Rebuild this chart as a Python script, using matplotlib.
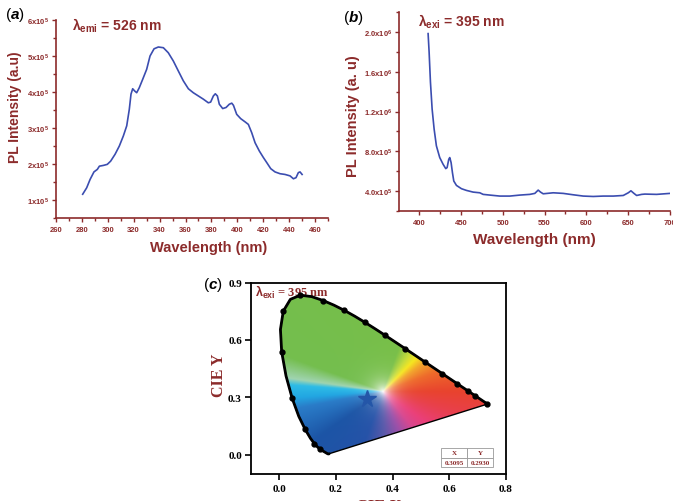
import numpy as np
import matplotlib
matplotlib.use("Agg")
import matplotlib.pyplot as plt
from matplotlib.ticker import FixedLocator, MultipleLocator
from matplotlib.patches import Polygon
from matplotlib.colors import to_rgb

# --- data -------------------------------------------------------------
# (a) excitation spectrum, lambda_emi = 526 nm
wl_a = [280.6, 283.7, 286.3, 289.3, 291.9, 293.5, 296.5, 299.6, 302.2, 305.6,
        308.9, 312.0, 314.6, 316.6, 317.9, 319.2, 320.7, 322.3, 324.3, 326.9,
        330.0, 332.6, 335.7, 339.0, 342.9, 346.7, 350.6, 354.5, 358.3, 362.2,
        366.0, 369.9, 373.8, 377.6, 379.4, 381.5, 383.0, 384.6, 386.1, 388.7,
        391.3, 393.8, 395.7, 397.0, 399.5, 402.6, 406.0, 408.5, 411.1, 413.7,
        417.0, 420.1, 422.7, 425.8, 429.1, 433.0, 436.8, 440.7, 443.3, 445.3,
        447.1, 448.4, 450.0]
int_a = [1.16, 1.34, 1.57, 1.78, 1.85, 1.94, 1.96, 1.99, 2.08, 2.27,
         2.50, 2.78, 3.06, 3.52, 3.94, 4.09, 4.03, 3.98, 4.12, 4.35,
         4.63, 5.00, 5.20, 5.25, 5.23, 5.09, 4.86, 4.58, 4.31, 4.09,
         3.98, 3.89, 3.80, 3.70, 3.72, 3.89, 3.95, 3.89, 3.66, 3.54,
         3.57, 3.66, 3.69, 3.63, 3.38, 3.26, 3.17, 3.10, 2.87, 2.59,
         2.36, 2.18, 2.04, 1.87, 1.78, 1.73, 1.71, 1.67, 1.59, 1.62,
         1.76, 1.78, 1.71]  # x1e5

# (b) emission spectrum, lambda_exi = 395 nm
wl_b = [410.8, 412.0, 413.6, 415.6, 418.0, 420.7, 424.7, 428.7, 431.9, 433.5,
        435.5, 436.7, 438.3, 439.9, 441.5, 444.7, 450.7, 456.6, 464.6, 472.6,
        476.6, 484.6, 496.5, 508.5, 520.5, 532.4, 538.4, 542.4, 545.2, 548.4,
        560.4, 572.3, 584.3, 596.3, 608.2, 620.2, 632.2, 644.1, 650.1, 653.3,
        656.9, 660.1, 666.1, 670.0, 684.0, 700.0]
int_b = [19.83, 17.98, 14.95, 12.25, 10.23, 8.55, 7.37, 6.70, 6.26, 6.36,
         7.20, 7.37, 6.86, 5.85, 5.01, 4.57, 4.24, 4.07, 3.90, 3.83,
         3.67, 3.60, 3.50, 3.50, 3.60, 3.67, 3.77, 4.10, 3.90, 3.73,
         3.83, 3.77, 3.63, 3.50, 3.46, 3.50, 3.50, 3.56, 3.83, 4.03,
         3.77, 3.56, 3.67, 3.70, 3.67, 3.77]  # x1e5

ticks_a_y = [1e5, 2e5, 3e5, 4e5, 5e5, 6e5]
labels_a_y = ["1x10$^5$", "2x10$^5$", "3x10$^5$", "4x10$^5$", "5x10$^5$", "6x10$^5$"]
ticks_b_y = [4e5, 8e5, 1.2e6, 1.6e6, 2.0e6]
labels_b_y = ["4.0x10$^5$", "8.0x10$^5$", "1.2x10$^6$", "1.6x10$^6$", "2.0x10$^6$"]

# (c) CIE 1931 spectral locus
locus_nm = [380, 390, 400, 410, 420, 430, 440, 445, 450, 455, 460, 465, 470, 475,
            480, 485, 490, 495, 500, 505, 510, 515, 520, 525, 530, 535, 540,
            545, 550, 555, 560, 565, 570, 575, 580, 585, 590, 595, 600, 605,
            610, 615, 620, 625, 630, 640, 650, 660, 680, 700]
locus_x = [0.1741, 0.1738, 0.1733, 0.1726, 0.1714, 0.1689, 0.1644, 0.1611, 0.1566,
           0.1510, 0.1440, 0.1355, 0.1241, 0.1096, 0.0913, 0.0687, 0.0454, 0.0235,
           0.0082, 0.0039, 0.0139, 0.0389, 0.0743, 0.1142, 0.1547, 0.1929, 0.2296,
           0.2658, 0.3016, 0.3373, 0.3731, 0.4087, 0.4441, 0.4788, 0.5125, 0.5448,
           0.5752, 0.6029, 0.6270, 0.6482, 0.6658, 0.6801, 0.6915, 0.7006, 0.7079,
           0.7190, 0.7260, 0.7300, 0.7334, 0.7347]
locus_y = [0.0050, 0.0049, 0.0048, 0.0048, 0.0051, 0.0069, 0.0109, 0.0138, 0.0177,
           0.0227, 0.0297, 0.0399, 0.0578, 0.0868, 0.1327, 0.2007, 0.2950, 0.4127,
           0.5384, 0.6548, 0.7502, 0.8120, 0.8338, 0.8262, 0.8059, 0.7816, 0.7543,
           0.7243, 0.6923, 0.6589, 0.6245, 0.5896, 0.5547, 0.5202, 0.4866, 0.4544,
           0.4242, 0.3965, 0.3725, 0.3514, 0.3340, 0.3197, 0.3083, 0.2993, 0.2920,
           0.2809, 0.2740, 0.2700, 0.2666, 0.2653]
dot_nm = [460, 470, 480, 490, 500, 510, 520, 530, 540, 550, 560, 570, 580, 590, 600, 610, 620, 700]
cie_point = (0.3095, 0.2930)

red = "#8C2B2B"
blue = "#3B4DB0"

plt.rcParams["font.family"] = ["Liberation Sans", "DejaVu Sans"]
plt.rcParams["font.weight"] = "bold"
plt.rcParams["mathtext.fontset"] = "custom"
plt.rcParams["mathtext.rm"] = "Liberation Sans:bold"
plt.rcParams["mathtext.it"] = "Liberation Sans:italic"
plt.rcParams["mathtext.bf"] = "Liberation Sans:bold"
plt.rcParams["mathtext.default"] = "bf"

W, H = 673, 502
fig = plt.figure(figsize=(W / 100, H / 100), dpi=100)


def px_axes(l, t, r, b):
    return fig.add_axes([l / W, 1 - b / H, (r - l) / W, (b - t) / H])


def style_spec(ax):
    for s in ["top", "right"]:
        ax.spines[s].set_visible(False)
    for s in ["left", "bottom"]:
        ax.spines[s].set_color(red)
        ax.spines[s].set_linewidth(1.2)
    ax.tick_params(which="both", direction="out", colors=red, labelsize=5.5, pad=2)
    ax.tick_params(which="major", length=3, width=1)
    ax.tick_params(which="minor", length=2, width=1)


# (a)
ax1 = px_axes(56, 21, 328, 219)
ax1.plot(wl_a, np.array(int_a) * 1e5, color=blue, lw=1.2)
ax1.set_xlim(260, 470)
ax1.set_ylim(0.5e5, 6e5)
ax1.xaxis.set_major_locator(FixedLocator(range(260, 461, 20)))
ax1.xaxis.set_minor_locator(MultipleLocator(10))
ax1.set_yticks(ticks_a_y, labels_a_y)
ax1.yaxis.set_minor_locator(MultipleLocator(0.5e5))
style_spec(ax1)
ax1.tick_params(axis="x", pad=3)
ax1.set_xlabel("Wavelength (nm)", color=red, fontsize=10.5, fontweight="bold")
ax1.xaxis.set_label_coords(0.56, -0.11)
ax1.set_ylabel("PL Intensity (a.u)", color=red, fontsize=10, fontweight="bold")
ax1.yaxis.set_label_coords(-0.125, 0.565)
ax1.text(0.06, 0.975, r"$\lambda_{emi}$ = 526 nm", transform=ax1.transAxes, color=red,
         fontsize=10, fontweight="bold", va="center", ha="left")
fig.text(5 / W, 1 - 15 / H, r"($\mathit{a}$)", fontsize=11, fontweight="normal", va="center")

# (b)
ax2 = px_axes(399, 13, 670, 212)
ax2.plot(wl_b, np.array(int_b) * 1e5, color=blue, lw=1.2)
ax2.set_xlim(376, 700)
ax2.set_ylim(2e5, 2.2e6)
ax2.xaxis.set_major_locator(FixedLocator(range(400, 701, 50)))
ax2.xaxis.set_minor_locator(MultipleLocator(25))
ax2.set_yticks(ticks_b_y, labels_b_y)
ax2.yaxis.set_minor_locator(MultipleLocator(2e5))
style_spec(ax2)
ax2.tick_params(axis="x", pad=3)
ax2.set_xlabel("Wavelength (nm)", color=red, fontsize=11, fontweight="bold")
ax2.xaxis.set_label_coords(0.5, -0.105)
ax2.set_ylabel("PL Intensity (a. u)", color=red, fontsize=10.5, fontweight="bold")
ax2.yaxis.set_label_coords(-0.145, 0.48)
ax2.text(0.07, 0.955, r"$\lambda_{exi}$ = 395 nm", transform=ax2.transAxes, color=red,
         fontsize=10, fontweight="bold", va="center", ha="left")
fig.text(343 / W, 1 - 18 / H, r"($\mathit{b}$)", fontsize=11, fontweight="normal", va="center")

# (c)
ax3 = px_axes(251, 283.5, 506, 475)
ax3.set_xlim(-0.1, 0.8)
ax3.set_ylim(-0.1, 0.9)

# colour wheel around the white point (Origin-like CIE fill)
hue_anchors = [(0, "#E8432E"), (20, "#EE6A2A"), (35, "#F2A52A"), (45, "#F6E61E"),
               (55, "#C4DB3A"), (70, "#78BF48"), (160, "#74BE4E"), (172, "#A0D4B0"),
               (176, "#2EBCE6"), (184, "#22A6E2"), (191, "#2A7CC8"), (215, "#1C55A6"),
               (250, "#2552A8"), (272, "#5A58AA"), (292, "#9A4EA8"), (310, "#D8458E"),
               (325, "#EA3E78"), (345, "#E8404A"), (360, "#E8432E")]
wp = (0.366, 0.33)
gx, gy = np.meshgrid(np.linspace(-0.1, 0.8, 600), np.linspace(-0.1, 0.9, 600))
dxp = (gx - wp[0]) * 283.3
dyp = (gy - wp[1]) * 191.5
ang = np.degrees(np.arctan2(dyp, dxp)) % 360
rad = np.hypot(dxp, dyp)
a_deg = np.array([a for a, _ in hue_anchors])
a_rgb = np.array([to_rgb(c) for _, c in hue_anchors])
rgb = np.stack([np.interp(ang, a_deg, a_rgb[:, k]) for k in range(3)], axis=-1)
f = (1 - np.exp(-rad / 9))[..., None]
rgb = 1 - f * (1 - rgb)
img = ax3.imshow(rgb, extent=(-0.1, 0.8, -0.1, 0.9), origin="lower", aspect="auto",
                 interpolation="bilinear", zorder=1)
poly = Polygon(np.column_stack([locus_x, locus_y]), closed=True, facecolor="none",
               edgecolor="black", lw=1.0, zorder=3)
ax3.add_patch(poly)
img.set_clip_path(poly)
ax3.plot(locus_x, locus_y, color="black", lw=2, zorder=4)
dx = [locus_x[locus_nm.index(n)] for n in dot_nm]
dy = [locus_y[locus_nm.index(n)] for n in dot_nm]
ax3.plot(dx, dy, "o", color="black", ms=3.5, zorder=5)
ax3.plot(*cie_point, marker="*", color="#2456A8", ms=13, zorder=6)

ax3.set_xticks([0.0, 0.2, 0.4, 0.6, 0.8])
ax3.set_yticks([0.0, 0.3, 0.6, 0.9])
ax3.tick_params(direction="out", length=4, width=1.2, labelsize=8)
ax3.tick_params(axis="y", pad=2.5)
for lab in ax3.get_xticklabels() + ax3.get_yticklabels():
    lab.set_family("Liberation Serif")
    lab.set_fontweight("bold")
for s in ax3.spines.values():
    s.set_linewidth(1.3)
ax3.set_xlabel("CIE X", family="Liberation Serif", color=red, fontsize=12,
               fontweight="bold", labelpad=3)
ax3.set_ylabel("CIE Y", family="Liberation Serif", color=red, fontsize=11.5,
               fontweight="bold")
ax3.yaxis.set_label_coords(-0.095, 0.52)
ax3.text(0.015, 0.955, r"$\lambda_{exi}$ = 395 nm", transform=ax3.transAxes, color=red,
         fontsize=9, fontweight="bold", family="Liberation Serif", va="center", ha="left")
fig.text(203 / W, 1 - 285 / H, r"($\mathit{c}$)", fontsize=11, fontweight="normal", va="center")

tb = ax3.table(cellText=[["%.4f" % cie_point[0], "%.4f" % cie_point[1]]],
               colLabels=["X", "Y"], bbox=[0.745, 0.036, 0.204, 0.099], zorder=7)
tb.auto_set_font_size(False)
for cell in tb.get_celld().values():
    cell.set_edgecolor("#999999")
    cell.set_linewidth(0.6)
    cell.get_text().set_fontsize(5)
    cell.get_text().set_color(red)
    cell.get_text().set_family("Liberation Serif")
    cell.get_text().set_fontweight("bold")

fig.savefig("out.png", dpi=100)
